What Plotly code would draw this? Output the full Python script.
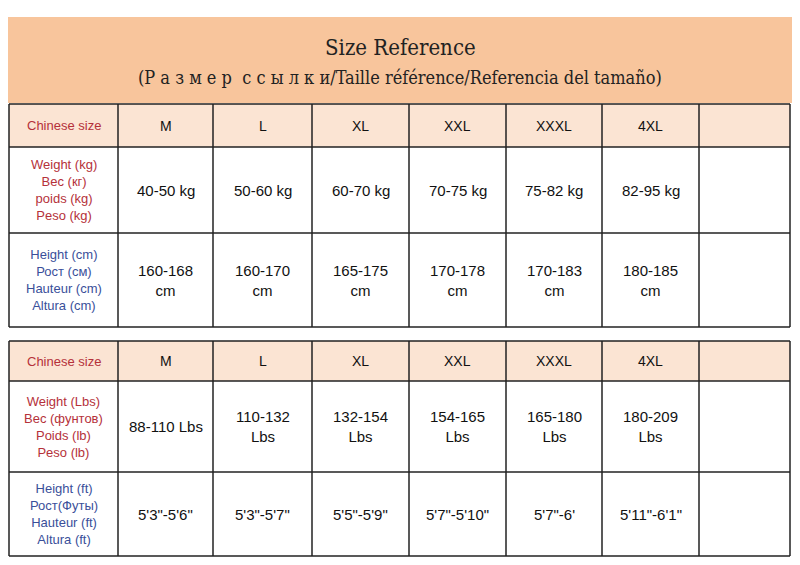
import plotly.graph_objects as go

sizes = ["M", "L", "XL", "XXL", "XXXL", "4XL", ""]
weight_kg = ["40-50 kg", "50-60 kg", "60-70 kg", "70-75 kg", "75-82 kg", "82-95 kg", ""]
height_cm = ["160-168<br>cm", "160-170<br>cm", "165-175<br>cm", "170-178<br>cm", "170-183<br>cm", "180-185<br>cm", ""]
weight_lbs = ["88-110 Lbs", "110-132<br>Lbs", "132-154<br>Lbs", "154-165<br>Lbs", "165-180<br>Lbs", "180-209<br>Lbs", ""]
height_ft = ["5'3\"-5'6\"", "5'3\"-5'7\"", "5'5\"-5'9\"", "5'7\"-5'10\"", "5'7\"-6'", "5'11\"-6'1\"", ""]

label_size = "Chinese size"
label_kg = "Weight (kg)<br>Вес (кг)<br>poids (kg)<br>Peso (kg)"
label_cm = "Height (cm)<br>Рост (см)<br>Hauteur (cm)<br>Altura (cm)"
label_lbs = "Weight (Lbs)<br>Вес (фунтов)<br>Poids (lb)<br>Peso (lb)"
label_ft = "Height (ft)<br>Рост(Футы)<br>Hauteur (ft)<br>Altura (ft)"

title = "Size Reference"
subtitle = "(Р а з м е р  с с ы л к и/Taille référence/Referencia del tamaño)"

# layout constants
cols = [9, 118, 213, 312, 409, 506, 602, 699, 790]
tables = [
    ([104, 147, 233, 327], [(label_size, sizes), (label_kg, weight_kg), (label_cm, height_cm)]),
    ([341, 381, 472, 556], [(label_size, sizes), (label_lbs, weight_lbs), (label_ft, height_ft)]),
]
RED = "#b5313a"
BLUE = "#3a4f9a"
PEACH = "#fbe4d3"

fig = go.Figure()
shapes = []
ann = []

shapes.append(dict(type="rect", x0=8, x1=792, y0=17, y1=103, fillcolor="#f8c59c", line_width=0, layer="below"))
ann.append(dict(x=400, y=47, text=title, showarrow=False, font=dict(family="DejaVu Serif Condensed, Liberation Serif", size=22, color="#222")))
ann.append(dict(x=400, y=77, text=subtitle, showarrow=False, font=dict(family="DejaVu Serif Condensed, Liberation Serif", size=18, color="#222")))

for rows, content in tables:
    shapes.append(dict(type="rect", x0=cols[0], x1=cols[-1], y0=rows[0], y1=rows[1], fillcolor=PEACH, line_width=0, layer="below"))
    for r, (label, vals) in enumerate(content):
        yc = (rows[r] + rows[r + 1]) / 2
        lc = RED if r < 2 else BLUE
        ann.append(dict(x=(cols[0] + cols[1]) / 2, y=yc, text=label, showarrow=False,
                        font=dict(family="Liberation Sans", size=13, color=lc)))
        for c, v in enumerate(vals):
            ann.append(dict(x=(cols[c + 1] + cols[c + 2]) / 2, y=yc, text=v, showarrow=False,
                            font=dict(family="Liberation Sans", size=14 if r == 0 else 15, color="#111")))
    for y in rows:
        shapes.append(dict(type="line", x0=cols[0], x1=cols[-1], y0=y, y1=y, line=dict(color="#222", width=1.5)))
    for x in cols:
        shapes.append(dict(type="line", x0=x, x1=x, y0=rows[0], y1=rows[-1], line=dict(color="#222", width=1.5)))

fig.update_layout(
    width=784, height=549, margin=dict(l=0, r=0, t=0, b=0),
    plot_bgcolor="white", paper_bgcolor="white",
    xaxis=dict(range=[8, 792], visible=False, fixedrange=True),
    yaxis=dict(range=[557, 8], visible=False, fixedrange=True),
    shapes=shapes, annotations=ann, showlegend=False,
)
fig.write_html("out.html")
